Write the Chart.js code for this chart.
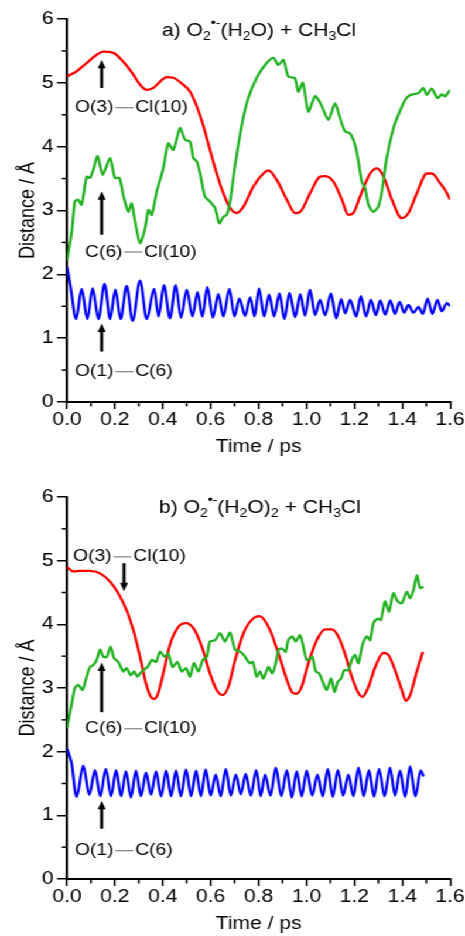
<!DOCTYPE html>
<html>
<head>
<meta charset="utf-8">
<script src="https://cdn.jsdelivr.net/npm/chart.js@4/dist/chart.umd.min.js"></script>
<style>
  html, body { margin: 0; padding: 0; background: #fff; overflow: hidden; }
  /* the original figure is stretched sideways, so draw narrow and scale */
  #wrap { position: relative; width: 397px; height: 936px; transform: scaleX(1.1713); transform-origin: 0 0; }
  canvas { position: absolute; left: 0; }
</style>
</head>
<body>
<div id="wrap">
  <canvas id="chartA" width="397" height="468" style="top:0"></canvas>
  <canvas id="chartB" width="397" height="468" style="top:468px"></canvas>
</div>
<script>
// ---- panel a) O2(H2O) + CH3Cl ----
const aRedT = [0, 0.040, 0.082, 0.124, 0.152, 0.194, 0.235, 0.277, 0.305, 0.333, 0.361, 0.389, 0.416, 0.444, 0.479, 0.514, 0.542, 0.570, 0.597, 0.625, 0.653, 0.681, 0.709, 0.737, 0.779, 0.820, 0.841, 0.876, 0.918, 0.953, 0.974, 1.015, 1.057, 1.078, 1.113, 1.148, 1.175, 1.196, 1.224, 1.266, 1.294, 1.322, 1.357, 1.398, 1.426, 1.461, 1.503, 1.524, 1.558, 1.579, 1.600];
const aRedD = [5.10, 5.18, 5.31, 5.44, 5.49, 5.47, 5.33, 5.13, 4.97, 4.89, 4.92, 5.02, 5.09, 5.08, 4.99, 4.86, 4.63, 4.32, 3.95, 3.58, 3.27, 3.04, 2.96, 3.06, 3.38, 3.58, 3.63, 3.48, 3.17, 2.96, 2.98, 3.27, 3.53, 3.54, 3.45, 3.17, 2.93, 2.96, 3.22, 3.58, 3.66, 3.53, 3.17, 2.88, 2.96, 3.27, 3.58, 3.58, 3.43, 3.32, 3.17];

const aGreenT = [0, 0.020, 0.033, 0.047, 0.061, 0.082, 0.096, 0.110, 0.128, 0.149, 0.180, 0.200, 0.219, 0.235, 0.256, 0.270, 0.284, 0.305, 0.326, 0.340, 0.354, 0.375, 0.402, 0.423, 0.444, 0.472, 0.493, 0.514, 0.528, 0.542, 0.556, 0.576, 0.597, 0.618, 0.636, 0.653, 0.667, 0.681, 0.702, 0.730, 0.757, 0.795, 0.834, 0.862, 0.883, 0.904, 0.924, 0.952, 0.966, 0.985, 1.008, 1.036, 1.061, 1.092, 1.119, 1.140, 1.161, 1.182, 1.203, 1.217, 1.231, 1.245, 1.259, 1.279, 1.300, 1.315, 1.335, 1.363, 1.384, 1.412, 1.433, 1.468, 1.488, 1.503, 1.523, 1.547, 1.565, 1.579, 1.600];
const aGreenD = [2.22, 2.67, 3.14, 3.17, 3.09, 3.53, 3.51, 3.64, 3.85, 3.56, 3.82, 3.51, 3.51, 3.24, 2.98, 3.11, 2.83, 2.49, 2.72, 3.01, 2.93, 3.30, 3.66, 4.05, 3.95, 4.29, 4.11, 4.08, 3.82, 3.77, 3.58, 3.22, 3.14, 3.04, 2.80, 2.90, 2.93, 3.14, 3.71, 4.34, 4.76, 5.10, 5.31, 5.39, 5.28, 5.36, 5.10, 5.07, 4.86, 5.00, 4.55, 4.79, 4.66, 4.42, 4.68, 4.45, 4.24, 4.21, 4.03, 3.77, 3.45, 3.35, 3.09, 2.98, 3.06, 3.30, 3.82, 4.29, 4.50, 4.73, 4.81, 4.84, 4.92, 4.81, 4.91, 4.76, 4.82, 4.79, 4.89];

const aBlueT = [0, 0.015, 0.038, 0.061, 0.085, 0.107, 0.131, 0.157, 0.180, 0.202, 0.224, 0.249, 0.274, 0.305, 0.333, 0.364, 0.382, 0.405, 0.430, 0.454, 0.476, 0.500, 0.524, 0.545, 0.565, 0.586, 0.609, 0.632, 0.653, 0.678, 0.699, 0.720, 0.744, 0.765, 0.783, 0.802, 0.823, 0.844, 0.865, 0.887, 0.908, 0.929, 0.953, 0.974, 0.994, 1.015, 1.036, 1.057, 1.078, 1.102, 1.124, 1.145, 1.162, 1.182, 1.208, 1.227, 1.249, 1.269, 1.290, 1.308, 1.329, 1.350, 1.370, 1.389, 1.408, 1.426, 1.447, 1.468, 1.486, 1.506, 1.526, 1.547, 1.565, 1.586, 1.600];
const aBlueD = [2.12, 1.80, 1.30, 1.77, 1.30, 1.78, 1.30, 1.85, 1.30, 1.76, 1.30, 1.82, 1.27, 1.90, 1.30, 1.77, 1.34, 1.83, 1.31, 1.83, 1.32, 1.76, 1.34, 1.72, 1.34, 1.80, 1.32, 1.69, 1.34, 1.77, 1.34, 1.62, 1.35, 1.64, 1.34, 1.78, 1.34, 1.68, 1.34, 1.70, 1.30, 1.71, 1.33, 1.69, 1.35, 1.76, 1.36, 1.60, 1.36, 1.70, 1.31, 1.61, 1.39, 1.60, 1.34, 1.66, 1.34, 1.60, 1.36, 1.59, 1.37, 1.59, 1.38, 1.57, 1.40, 1.52, 1.40, 1.49, 1.38, 1.62, 1.38, 1.60, 1.42, 1.55, 1.50];

// ---- panel b) O2(H2O)2 + CH3Cl ----
const bRedT = [0, 0.026, 0.054, 0.096, 0.138, 0.180, 0.214, 0.249, 0.277, 0.305, 0.330, 0.350, 0.365, 0.381, 0.402, 0.430, 0.465, 0.497, 0.528, 0.563, 0.597, 0.625, 0.650, 0.674, 0.702, 0.737, 0.771, 0.803, 0.820, 0.848, 0.883, 0.918, 0.941, 0.959, 0.980, 1.008, 1.043, 1.078, 1.106, 1.133, 1.161, 1.189, 1.217, 1.234, 1.259, 1.287, 1.321, 1.342, 1.370, 1.398, 1.415, 1.433, 1.461, 1.486];
const bRedD = [4.90, 4.83, 4.84, 4.84, 4.80, 4.67, 4.49, 4.22, 3.91, 3.49, 3.07, 2.86, 2.83, 2.92, 3.23, 3.68, 3.96, 4.02, 3.94, 3.65, 3.23, 2.97, 2.89, 3.02, 3.44, 3.86, 4.07, 4.13, 4.09, 3.91, 3.54, 3.13, 2.93, 2.91, 3.02, 3.39, 3.75, 3.92, 3.92, 3.81, 3.54, 3.18, 2.92, 2.86, 3.02, 3.33, 3.55, 3.52, 3.28, 2.97, 2.80, 2.89, 3.26, 3.57];

const bGreenT = [0, 0.020, 0.033, 0.047, 0.065, 0.082, 0.096, 0.110, 0.124, 0.138, 0.152, 0.166, 0.182, 0.196, 0.214, 0.235, 0.249, 0.266, 0.280, 0.294, 0.312, 0.336, 0.354, 0.372, 0.389, 0.407, 0.423, 0.441, 0.461, 0.479, 0.497, 0.514, 0.530, 0.549, 0.567, 0.584, 0.597, 0.618, 0.639, 0.660, 0.681, 0.702, 0.723, 0.744, 0.762, 0.776, 0.792, 0.806, 0.820, 0.841, 0.858, 0.872, 0.883, 0.897, 0.913, 0.924, 0.941, 0.955, 0.973, 0.987, 1.001, 1.015, 1.025, 1.039, 1.053, 1.071, 1.085, 1.103, 1.117, 1.131, 1.145, 1.158, 1.175, 1.189, 1.203, 1.217, 1.234, 1.252, 1.266, 1.280, 1.298, 1.311, 1.328, 1.345, 1.363, 1.381, 1.398, 1.419, 1.433, 1.447, 1.461, 1.475, 1.489];
const bGreenD = [2.37, 2.76, 3.00, 3.05, 2.97, 3.18, 3.33, 3.36, 3.44, 3.60, 3.49, 3.49, 3.65, 3.47, 3.41, 3.26, 3.31, 3.20, 3.26, 3.18, 3.26, 3.33, 3.44, 3.41, 3.57, 3.49, 3.54, 3.33, 3.41, 3.26, 3.31, 3.18, 3.39, 3.26, 3.44, 3.49, 3.73, 3.75, 3.86, 3.73, 3.87, 3.60, 3.57, 3.49, 3.39, 3.41, 3.18, 3.26, 3.15, 3.33, 3.23, 3.39, 3.60, 3.62, 3.57, 3.75, 3.81, 3.73, 3.83, 3.65, 3.44, 3.46, 3.49, 3.26, 3.23, 3.07, 2.97, 3.15, 2.94, 3.10, 3.15, 3.28, 3.28, 3.44, 3.52, 3.39, 3.68, 3.81, 3.75, 4.02, 4.09, 4.07, 4.36, 4.20, 4.49, 4.36, 4.33, 4.51, 4.41, 4.54, 4.77, 4.57, 4.59];

const bBlueT = [0, 0.019, 0.040, 0.068, 0.093, 0.117, 0.139, 0.162, 0.184, 0.205, 0.226, 0.246, 0.267, 0.288, 0.309, 0.330, 0.351, 0.372, 0.393, 0.414, 0.435, 0.455, 0.476, 0.497, 0.518, 0.539, 0.559, 0.579, 0.600, 0.621, 0.642, 0.663, 0.684, 0.705, 0.726, 0.746, 0.768, 0.790, 0.809, 0.827, 0.850, 0.872, 0.895, 0.918, 0.939, 0.959, 0.980, 1.001, 1.024, 1.046, 1.068, 1.089, 1.110, 1.131, 1.153, 1.175, 1.196, 1.217, 1.239, 1.261, 1.282, 1.303, 1.326, 1.349, 1.370, 1.391, 1.412, 1.433, 1.455, 1.477, 1.489];
const bBlueD = [2.05, 1.82, 1.29, 1.78, 1.32, 1.71, 1.30, 1.73, 1.30, 1.71, 1.30, 1.69, 1.28, 1.70, 1.30, 1.67, 1.32, 1.69, 1.30, 1.70, 1.30, 1.70, 1.30, 1.72, 1.30, 1.70, 1.30, 1.72, 1.31, 1.64, 1.30, 1.73, 1.31, 1.64, 1.33, 1.65, 1.31, 1.71, 1.30, 1.64, 1.31, 1.75, 1.30, 1.71, 1.28, 1.69, 1.30, 1.70, 1.31, 1.64, 1.30, 1.73, 1.29, 1.71, 1.31, 1.64, 1.30, 1.75, 1.30, 1.71, 1.29, 1.73, 1.30, 1.75, 1.31, 1.70, 1.29, 1.77, 1.30, 1.70, 1.61];

// axis ticks
const xRange = [0, 1.6], xStep = 0.2;
const yRange = [0, 6], yStep = 1;
const xMinor = [0.1, 0.3, 0.5, 0.7, 0.9, 1.1, 1.3, 1.5];
const yMinor = [0.5, 1.5, 2.5, 3.5, 4.5, 5.5];

const RED = '#ff0000', GREEN = '#22b222', BLUE = '#0000ff';
const FONT = "'Liberation Sans', Arial, Helvetica, sans-serif";
const AXIS_FS = 18;
Chart.defaults.font.family = FONT;
Chart.defaults.color = '#000';

const toPts = (t, d) => t.map((v, i) => ({ x: v, y: d[i] }));

// text with sub/superscripts and the grey bond dash
function drawRich(ctx, x, y, segs, size) {
  let cx = x;
  ctx.textBaseline = 'middle';
  ctx.textAlign = 'left';
  ctx.fillStyle = '#000';
  segs.forEach(s => {
    if (s.dash) {
      ctx.save();
      ctx.strokeStyle = '#8a8a8a';
      ctx.lineWidth = 1.3;
      ctx.beginPath();
      ctx.moveTo(cx + 1.5, y);
      ctx.lineTo(cx + 1.5 + s.dash, y);
      ctx.stroke();
      ctx.restore();
      cx += s.dash + 3;
      return;
    }
    const small = s.sub || s.sup;
    const fs = small ? Math.round(size * 0.68) : size;
    ctx.font = fs + 'px ' + FONT;
    const dy = s.sub ? size * 0.3 : (s.sup ? -size * 0.4 : 0);
    ctx.fillText(s.t, cx, y + dy);
    cx += ctx.measureText(s.t).width;
  });
}

function drawArrow(ctx, px, y0, y1) {
  const dir = Math.sign(y1 - y0);
  const head = 8.5, half = 3.4;
  ctx.strokeStyle = '#000';
  ctx.fillStyle = '#000';
  ctx.lineWidth = 2.7;
  ctx.beginPath();
  ctx.moveTo(px, y0);
  ctx.lineTo(px, y1 - dir * head * 0.7);
  ctx.stroke();
  ctx.beginPath();
  ctx.moveTo(px, y1);
  ctx.lineTo(px - half, y1 - dir * head);
  ctx.lineTo(px + half, y1 - dir * head);
  ctx.closePath();
  ctx.fill();
}

// minor ticks, titles, bond labels and arrows
const decor = {
  id: 'decor',
  afterDatasetsDraw(chart, args, opts) {
    const { ctx, scales: { x, y } } = chart;
    ctx.save();
    ctx.strokeStyle = '#000';
    ctx.lineWidth = 1.5;
    xMinor.forEach(v => {
      const px = x.getPixelForValue(v);
      ctx.beginPath();
      ctx.moveTo(px, y.bottom);
      ctx.lineTo(px, y.bottom + 4.5);
      ctx.stroke();
    });
    yMinor.forEach(v => {
      const py = y.getPixelForValue(v);
      ctx.beginPath();
      ctx.moveTo(x.left, py);
      ctx.lineTo(x.left - 4.5, py);
      ctx.stroke();
    });
    const t = opts.title;
    drawRich(ctx, x.getPixelForValue(t.t), y.getPixelForValue(t.v), t.segs, 18);
    opts.labels.forEach(l => drawRich(ctx, x.getPixelForValue(l.t), y.getPixelForValue(l.v), l.segs, 16.5));
    opts.arrows.forEach(a => drawArrow(ctx, x.getPixelForValue(a.t), y.getPixelForValue(a.from), y.getPixelForValue(a.to)));
    ctx.restore();
  }
};

const bondOCl = [{ t: 'O(3)' }, { dash: 15.5 }, { t: 'Cl(10)' }];
const bondCCl = [{ t: 'C(6)' }, { dash: 15.5 }, { t: 'Cl(10)' }];
const bondOC = [{ t: 'O(1)' }, { dash: 15.5 }, { t: 'C(6)' }];

const notesA = {
  title: { t: 0.397, v: 5.81, segs: [{ t: 'a) O' }, { t: '2', sub: 1 }, { t: '\u2022-', sup: 1 }, { t: '(H' }, { t: '2', sub: 1 }, { t: 'O) + CH' }, { t: '3', sub: 1 }, { t: 'Cl' }] },
  labels: [
    { t: 0.033, v: 4.61, segs: bondOCl },
    { t: 0.075, v: 2.35, segs: bondCCl },
    { t: 0.033, v: 0.475, segs: bondOC }
  ],
  arrows: [
    { t: 0.145, from: 4.92, to: 5.36 },
    { t: 0.145, from: 2.62, to: 3.30 },
    { t: 0.145, from: 0.79, to: 1.23 }
  ]
};

const notesB = {
  title: { t: 0.384, v: 5.83, segs: [{ t: 'b) O' }, { t: '2', sub: 1 }, { t: '\u2022-', sup: 1 }, { t: '(H' }, { t: '2', sub: 1 }, { t: 'O)' }, { t: '2', sub: 1 }, { t: ' + CH' }, { t: '3', sub: 1 }, { t: 'Cl' }] },
  labels: [
    { t: 0.025, v: 5.06, segs: bondOCl },
    { t: 0.075, v: 2.36, segs: bondCCl },
    { t: 0.033, v: 0.445, segs: bondOC }
  ],
  arrows: [
    { t: 0.238, from: 4.96, to: 4.52 },
    { t: 0.145, from: 2.62, to: 3.40 },
    { t: 0.145, from: 0.79, to: 1.23 }
  ]
};

function makePanel(id, red, green, blue, notes, padTop, padBottom) {
  const line = (pts, color, smooth) => ({
    data: pts,
    borderColor: color,
    borderWidth: 2.3,
    pointRadius: 0,
    fill: false,
    tension: smooth ? 0 : 0.25,
    cubicInterpolationMode: smooth ? 'monotone' : 'default'
  });
  return new Chart(document.getElementById(id), {
    type: 'line',
    data: {
      datasets: [
        line(green, GREEN, false),
        line(red, RED, true),
        line(blue, BLUE, true)
      ]
    },
    options: {
      responsive: false,
      animation: false,
      devicePixelRatio: 1,
      layout: { padding: { top: padTop, right: 12.7, bottom: padBottom, left: 0 } },
      plugins: { legend: { display: false }, tooltip: { enabled: false }, decor: notes },
      scales: {
        x: {
          type: 'linear', min: xRange[0], max: xRange[1],
          ticks: { stepSize: xStep, autoSkip: false, maxRotation: 0, padding: 0, color: '#000', font: { size: AXIS_FS },
                   callback: v => v.toFixed(1) },
          grid: { drawOnChartArea: false, color: '#000', lineWidth: 1.5, tickLength: 7 },
          border: { color: '#000', width: 2 },
          title: { display: true, text: 'Time / ps', color: '#000', font: { size: AXIS_FS }, padding: { top: 0, bottom: 0 } },
          afterFit: s => { s.height = 56; }
        },
        y: {
          type: 'linear', min: yRange[0], max: yRange[1],
          ticks: { stepSize: yStep, padding: 3, color: '#000', font: { size: AXIS_FS } },
          grid: { drawOnChartArea: false, color: '#000', lineWidth: 1.5, tickLength: 8.5 },
          border: { color: '#000', width: 2 },
          title: { display: true, text: 'Distance / \u00c5', color: '#000', font: { size: AXIS_FS }, padding: { top: 13, bottom: 0 } },
          afterFit: s => { s.width = 57.2; }
        }
      }
    },
    plugins: [decor]
  });
}

makePanel('chartA', toPts(aRedT, aRedD), toPts(aGreenT, aGreenD), toPts(aBlueT, aBlueD), notesA, 19, 10);
makePanel('chartB', toPts(bRedT, bRedD), toPts(bGreenT, bGreenD), toPts(bBlueT, bBlueD), notesB, 29, 1);
</script>
</body>
</html>
